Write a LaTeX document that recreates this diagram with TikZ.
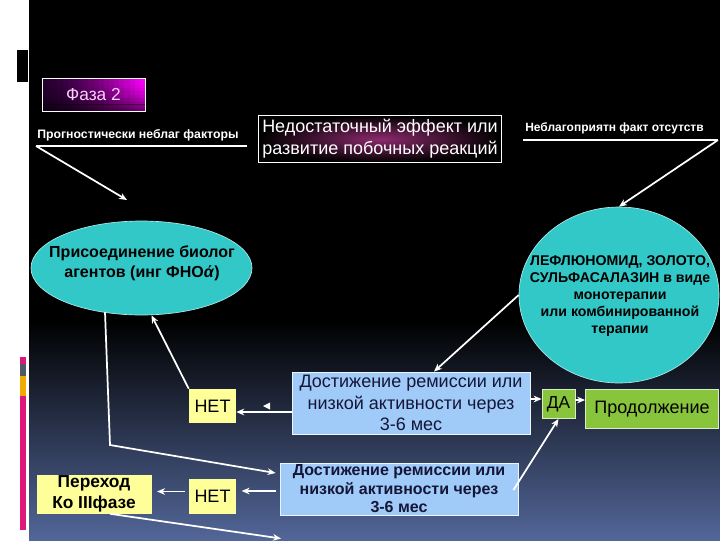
\documentclass[tikz,border=0pt]{standalone}
\usepackage{fontspec}
\setmainfont{Liberation Sans}
\usetikzlibrary{shapes.geometric,arrows.meta,calc}
\definecolor{cyanell}{RGB}{51,200,200}
\definecolor{bluebx}{RGB}{160,202,248}
\definecolor{yellbx}{RGB}{255,255,153}
\definecolor{greenbx}{RGB}{136,196,60}
\definecolor{boxtxt}{RGB}{20,22,55}
\definecolor{slbot}{RGB}{82,102,152}
\definecolor{pinkstrip}{RGB}{222,24,120}
\definecolor{graystrip}{RGB}{80,90,100}
\definecolor{orangestrip}{RGB}{240,170,0}
\definecolor{fazaL}{RGB}{40,0,50}
\definecolor{fazaR}{RGB}{250,0,250}
\definecolor{fazaTxt}{RGB}{255,205,255}
\definecolor{nedIn}{RGB}{140,42,108}
\tikzset{
  arr/.style={draw=white, line width=1.3pt, -{Stealth[length=6pt,width=5pt]}},
  ln/.style={draw=white, line width=1.1pt},
  bluebox/.style={rectangle, fill=bluebx, draw=white!80!bluebx, line width=0.6pt, inner sep=0pt, text=boxtxt, align=center},
  yellowbox/.style={rectangle, fill=yellbx, inner sep=0pt, text=black, align=center},
  greenbox/.style={rectangle, fill=greenbx, draw=white!70!greenbx, line width=0.6pt, inner sep=0pt, text=black, align=center},
  ellshape/.style={ellipse, fill=cyanell, draw=white!60!cyanell, line width=0.5pt, inner sep=0pt},
  wtxt/.style={text=white, inner sep=0pt}
}
\begin{document}
\begin{tikzpicture}[x=0.75pt,y=-0.75pt]
\useasboundingbox (0,0) rectangle (720,540);
% background
\fill[white] (0,0) rectangle (720,540);
\fill[black] (29,0) rectangle (720,320);
\shade[top color=black, bottom color=slbot] (29,320) rectangle (720,540);
% left decorations
\fill[black] (17,50) rectangle (28,82);
\fill[pinkstrip] (20,357) rectangle (26,364);
\fill[graystrip] (20,364) rectangle (26,376);
\fill[orangestrip] (20,376) rectangle (26,396);
\fill[pinkstrip] (20,396) rectangle (26,530);

% Phase 2 background (manual gradient)
\foreach \i in {0,...,19}{
  \pgfmathsetmacro{\pc}{(\i/19)^1.6*100}
  \fill[fazaR!\pc!fazaL] ({42+\i*103/20},78) rectangle ({42+(\i+1)*103/20+0.3},111);
}
\foreach \j in {0,...,9}{
  \pgfmathsetmacro{\op}{(\j/9)^1.5*0.55}
  \fill[black, opacity=\op] (42,{78+\j*3.3}) rectangle (145,{78+(\j+1)*3.3+0.2});
}
\node[rectangle, draw=white, line width=0.6pt, minimum width=77.25pt, minimum height=24.75pt,
      text=fazaTxt, font=\fontsize{13}{15}\selectfont] (faza) at (93.5,94.5) {Фаза 2};

% top-left label
\node[wtxt, anchor=base west, font=\bfseries\fontsize{9.2}{11}\selectfont] (prog) at (37,138) {Прогностически неблаг факторы};
\coordinate (pu1) at (36,146);
\coordinate (pu2) at (247,146);
\coordinate (pa) at (127,200);
\draw[ln] (pu1) -- (pu2);
\draw[arr] (pu1) -- (pa);

% middle top box
\node[rectangle, draw=white, line width=0.8pt, minimum width=182.25pt, minimum height=35pt,
      shading=radial, inner color=nedIn, outer color=black,
      text=white, align=center, inner sep=0pt, font=\fontsize{13.5}{16.5}\selectfont] (ned) at (380,139)
      {Недостаточный эффект или\\развитие побочных реакций};

% top-right label
\node[wtxt, anchor=base west, font=\bfseries\fontsize{9}{11}\selectfont] (nebl) at (525,131) {Неблагоприятн факт отсутств};
\coordinate (nu1) at (523,140);
\coordinate (nu2) at (718,140);
\draw[ln] (nu1) -- (nu2);

% ellipses
\node[ellshape, minimum width=165.75pt, minimum height=70.5pt] (ellL) at (141.5,268) {};
\node[text=black, align=center, inner sep=0pt, font=\bfseries\fontsize{12}{15}\selectfont] (ellLt) at (142,263)
      {Присоединение биолог\\агентов (инг ФНО\textit{ά})};
\node[ellshape, minimum width=150pt, minimum height=132pt] (ellR) at (619,295) {};
\node[text=black, align=center, inner sep=0pt, font=\bfseries\fontsize{10.6}{12.75}\selectfont] (ellRt) at (620,296)
      {ЛЕФЛЮНОМИД, ЗОЛОТО,\\СУЛЬФАСАЛАЗИН в виде\\монотерапии\\или комбинированной\\терапии};
\draw[arr] (nu2) -- (ellR.north);

% blue boxes
\node[bluebox, minimum width=178.5pt, minimum height=46.5pt, font=\fontsize{13.5}{16}\selectfont] (box1) at (411,403)
      {Достижение ремиссии или\\низкой активности через\\3-6 мес};
\node[bluebox, minimum width=178.5pt, minimum height=39pt, font=\bfseries\fontsize{12}{13.9}\selectfont] (box2) at (399,489)
      {Достижение ремиссии или\\низкой активности через\\3-6 мес};

% yellow boxes
\node[yellowbox, minimum width=35.25pt, minimum height=25.5pt, font=\fontsize{13.5}{15}\selectfont] (net1) at (212.5,406) {НЕТ};
\node[yellowbox, minimum width=35.25pt, minimum height=26.25pt, font=\fontsize{13.5}{15}\selectfont] (net2) at (212.5,496.5) {НЕТ};
\node[yellowbox, minimum width=86.25pt, minimum height=29.25pt, font=\bfseries\fontsize{13}{15.5}\selectfont] (per) at (94,494)
      {Переход\\Ко IIIфазе};

% green boxes
\node[greenbox, minimum width=24.75pt, minimum height=21.75pt, font=\fontsize{13}{15}\selectfont] (da) at (558.5,404) {ДА};
\node[greenbox, minimum width=99.75pt, minimum height=29.25pt, font=\fontsize{13.5}{15}\selectfont] (prod) at (652,409) {Продолжение};

% connectors
\draw[arr] (ellR.west) -- ([xshift=17.25pt]box1.north);
\draw[arr] ([yshift=-6.75pt]box1.west) -- ([yshift=-6.75pt]box1.west -| net1.east);
\fill[white] (263,406) -- (270,402.5) -- (270,409.5) -- cycle;
\draw[arr] (net1.north west) -- ([xshift=7.5pt]ellL.south);
\coordinate (lstart) at (105,312);
\coordinate (lbend) at (110,445);
\draw[arr] (lstart) -- (lbend) -- ([yshift=12pt,xshift=-3pt]box2.west);
\draw[arr, shorten >=4pt, shorten <=3pt] ([yshift=-1.5pt]box2.west) -- ([yshift=-1.5pt]box2.west -| net2.east);
\draw[arr, shorten >=4pt, shorten <=3pt] ([yshift=3.75pt]net2.west) -- ([yshift=3.75pt]net2.west -| per.east);
\coordinate (bend2) at (281,538.5);
\draw[arr] ([xshift=12pt]per.south) -- (bend2);
\draw[arr] ([xshift=-3.75pt,yshift=-0.75pt]box2.east) -- (da.south);
\draw[arr] ([yshift=3pt]box1.east) -- ([yshift=3pt]box1.east -| da.west);
\draw[arr] ([yshift=3pt]da.east) -- ([yshift=3pt]da.east -| prod.west);
\end{tikzpicture}
\end{document}
